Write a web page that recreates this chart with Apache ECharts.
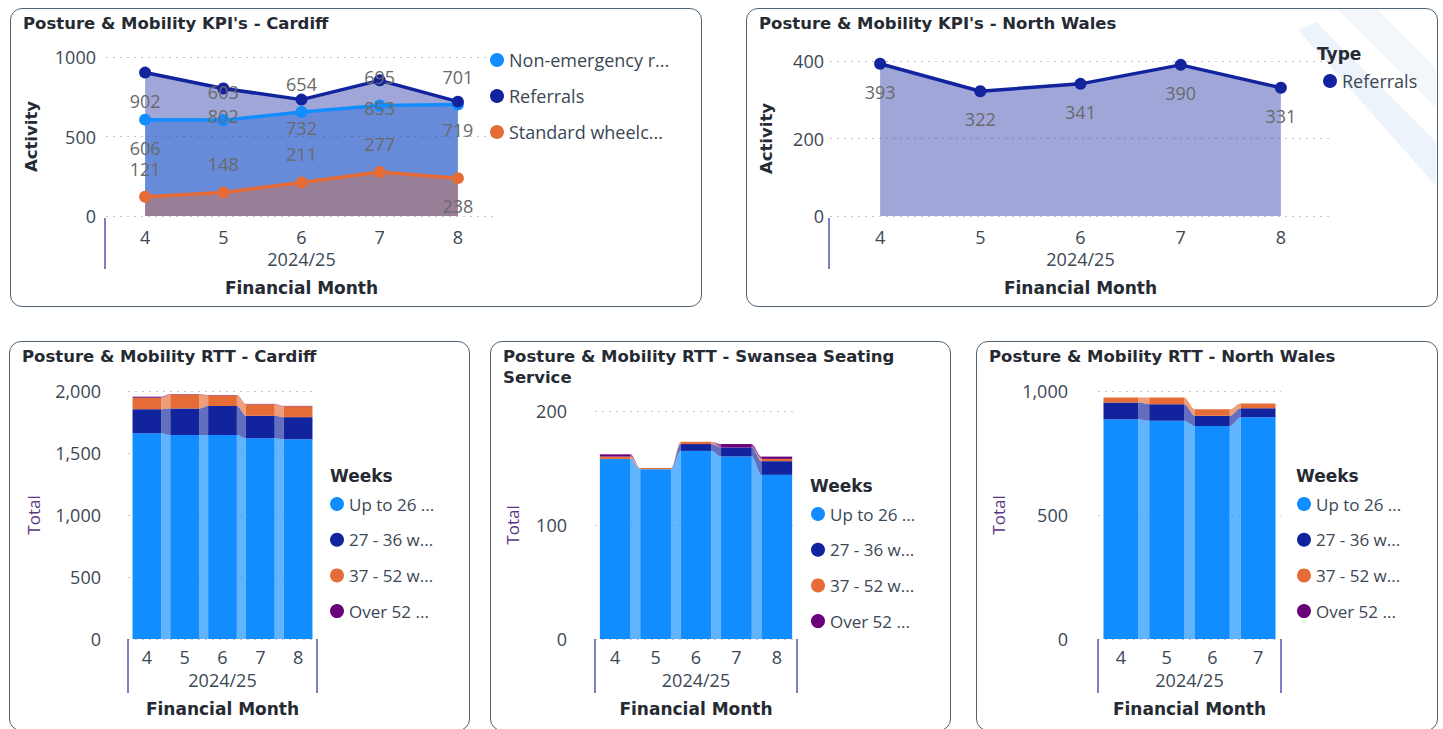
<!DOCTYPE html>
<html><head><meta charset="utf-8">
<script src="https://cdn.jsdelivr.net/npm/echarts@6/dist/echarts.min.js"></script>
<style>
html,body{margin:0;padding:0;background:#fff;}
body{width:1443px;height:729px;overflow:hidden;position:relative;}
.panel{position:absolute;box-sizing:border-box;border:1.6px solid #516474;border-radius:12px;background:#fff;}
.chart{position:absolute;}
</style></head><body>
<div id="root"></div>
<script>
// ---------------- DATA ----------------
const months = ['4', '5', '6', '7', '8'];
const monthsNW = ['4', '5', '6', '7'];
const kpiNames = ['Non-emergency r...', 'Referrals', 'Standard wheelc...'];
const cardiffNonEmergency = [606, 603, 654, 695, 701];
const cardiffReferrals = [902, 802, 732, 853, 719];
const cardiffStandardWheelchair = [121, 148, 211, 277, 238];
const northWalesReferrals = [393, 322, 341, 390, 331];
const weeksNames = ['Up to 26 ...', '27 - 36 w...', '37 - 52 w...', 'Over 52 ...'];
const cardiffUpTo26 = [1659, 1645, 1645, 1619, 1611];
const cardiff27to36 = [194, 214, 234, 181, 178];
const cardiff37to52 = [93, 114, 86, 93, 88];
const cardiffOver52 = [8, 3, 3, 3, 3];
const swanseaUpTo26 = [158, 149, 165, 160, 144];
const swansea27to36 = [0, 0, 6, 8, 12];
const swansea37to52 = [2, 1, 2, 0, 2];
const swanseaOver52 = [2, 0, 0, 3, 2];
const nwUpTo26 = [886, 880, 859, 894];
const nw27to36 = [68, 67, 41, 36];
const nw37to52 = [20, 27, 26, 20];
const nwOver52 = [0, 0, 0, 0];

// ---------------- STYLE ----------------
const FONT = "'Open Sans', 'Noto Sans', sans-serif";
const BFONT = "'DejaVu Sans', 'Open Sans', sans-serif";
const TXT = '#3b4754';
const DARK = '#252a33';
const C_BLUE = '#118DFF', C_NAVY = '#12239E', C_ORANGE = '#E66C37', C_PURPLE = '#6B007B';
const WEEK_COLORS = [C_BLUE, C_NAVY, C_ORANGE, C_PURPLE];
const BAR_FRAC = 0.76;

const panels = [
  {x: 10, y: 8, w: 692, h: 299},
  {x: 746, y: 8, w: 692, h: 299},
  {x: 9, y: 341, w: 461, h: 390},
  {x: 490, y: 341, w: 461, h: 390},
  {x: 976, y: 341, w: 462, h: 390}
];
const root = document.getElementById('root');
const doms = panels.map(p => {
  const pd = document.createElement('div');
  pd.className = 'panel';
  Object.assign(pd.style, {left: p.x + 'px', top: p.y + 'px', width: p.w + 'px', height: p.h + 'px'});
  root.appendChild(pd);
  const cd = document.createElement('div');
  cd.className = 'chart';
  Object.assign(cd.style, {left: p.x + 'px', top: p.y + 'px', width: p.w + 'px', height: Math.min(p.h, 729 - p.y) + 'px'});
  root.appendChild(cd);
  return cd;
});

function mainTitle(text, extra) {
  return Object.assign({
    text, left: 8, top: 0,
    textStyle: {fontFamily: BFONT, fontSize: 16.5, fontWeight: 'bold', color: DARK, lineHeight: 21}
  }, extra || {});
}
function legendTitle(text, left, top) {
  return {text, left, top, textStyle: {fontFamily: BFONT, fontSize: 17, fontWeight: 'bold', color: DARK}};
}
function yAxisCfg(max, interval, name, nameGap, margin, fmt, nameStyle) {
  return {
    type: 'value', min: 0, max, interval,
    name, nameLocation: 'middle', nameGap, nameMoveOverlap: false,
    nameTextStyle: nameStyle,
    axisLabel: {color: TXT, fontSize: 18, fontFamily: FONT, margin, formatter: fmt},
    axisLine: {show: false}, axisTick: {show: false},
    splitLine: {lineStyle: {color: '#c6c6c6', type: [2, 5], width: 1}}
  };
}
function xAxisCfg(cats, margin, nameGap, lh2, ticks) {
  return {
    type: 'category', data: cats, boundaryGap: true,
    name: '{a|2024/25}\n{b|Financial Month}', nameLocation: 'middle', nameGap, nameMoveOverlap: false,
    nameTextStyle: {rich: {
      a: {fontSize: 18, color: TXT, fontFamily: FONT, lineHeight: 24},
      b: {fontSize: 17, fontWeight: 'bold', color: DARK, fontFamily: BFONT, lineHeight: lh2}
    }},
    axisLabel: {color: TXT, fontSize: 18, fontFamily: FONT, margin},
    axisLine: {show: false},
    axisTick: ticks ? {show: true, interval: (i) => i === 0, length: 54, lineStyle: {color: '#7c80c9', width: 2}} : {show: false}
  };
}
const boldName = {fontFamily: BFONT, fontSize: 16.5, fontWeight: 'bold', color: DARK};
const totalName = {fontFamily: FONT, fontSize: 17, color: '#5a3584'};
const fmtThousands = v => v.toLocaleString('en-US');
const fmtPlain = v => String(v);

// ---------- line (KPI) charts ----------
function lineSeries(name, color, values, positions) {
  return {
    type: 'line', name, color,
    data: values.map((v, i) => ({value: v, label: {position: positions[i]}})),
    symbol: 'circle', symbolSize: 12, lineStyle: {width: 3.5, color},
    itemStyle: {color}, areaStyle: {color, opacity: 0.4},
    label: {show: true, distance: 13, fontFamily: FONT, fontSize: 18, color: '#6a6a6a'},
    emphasis: {disabled: true}
  };
}

// Chart 1: KPI Cardiff
echarts.init(doms[0], null, {renderer: 'svg'}).setOption({
  animation: false,
  title: [mainTitle("Posture & Mobility KPI's - Cardiff")],
  grid: {left: 96, right: 205, top: 49, bottom: 91},
  xAxis: xAxisCfg(months, 12, 31, 34, false),
  yAxis: yAxisCfg(1000, 500, 'Activity', 66, 10, fmtPlain, boldName),
  legend: {
    orient: 'vertical', left: 475, top: 38, itemGap: 18, icon: 'circle', itemWidth: 14, itemHeight: 14,
    textStyle: {fontFamily: FONT, fontSize: 18, color: TXT}, data: kpiNames
  },
  graphic: [{type: 'line', shape: {x1: 95, y1: 210, x2: 95, y2: 261}, style: {stroke: '#7c80c9', lineWidth: 2}}],
  series: [
    lineSeries(kpiNames[0], C_BLUE, cardiffNonEmergency, ['bottom', 'top', 'top', 'top', 'top']),
    lineSeries(kpiNames[1], C_NAVY, cardiffReferrals, ['bottom', 'bottom', 'bottom', 'bottom', 'bottom']),
    lineSeries(kpiNames[2], C_ORANGE, cardiffStandardWheelchair, ['top', 'top', 'top', 'top', 'bottom'])
  ]
});

// Chart 2: KPI North Wales
echarts.init(doms[1], null, {renderer: 'svg'}).setOption({
  animation: false,
  title: [mainTitle("Posture & Mobility KPI's - North Wales"), legendTitle('Type', 566, 32)],
  grid: {left: 84, right: 107, top: 53, bottom: 91},
  xAxis: xAxisCfg(months, 12, 31, 34, false),
  yAxis: yAxisCfg(400, 200, 'Activity', 55, 6, fmtPlain, boldName),
  legend: {
    orient: 'vertical', left: 572, top: 59, icon: 'circle', itemWidth: 14, itemHeight: 14,
    textStyle: {fontFamily: FONT, fontSize: 18, color: TXT}, data: ['Referrals']
  },
  graphic: [
    {type: 'polygon', z: -1, silent: true, shape: {points: [[591, 1], [631, 1], [690, 60], [690, 100]]}, style: {fill: '#f3f7fc'}},
    {type: 'polygon', z: -1, silent: true, shape: {points: [[552, 22], [570, 14], [690, 134], [690, 178]]}, style: {fill: '#edf3fb'}},
    {type: 'line', shape: {x1: 83, y1: 210, x2: 83, y2: 261}, style: {stroke: '#7c80c9', lineWidth: 2}}
  ],
  series: [lineSeries('Referrals', C_NAVY, northWalesReferrals, ['bottom', 'bottom', 'bottom', 'bottom', 'bottom'])]
});

// ---------- ribbon (RTT) charts ----------
function renderRibbon(params, api) {
  const i = api.value(0);
  const a0 = api.coord([i, api.value(1)]), a1 = api.coord([i, api.value(2)]);
  const b0 = api.coord([i + 1, api.value(3)]), b1 = api.coord([i + 1, api.value(4)]);
  const half = api.size([1, 0])[0] * BAR_FRAC / 2;
  const x1 = a0[0] + half, x2 = b0[0] - half;
  const pts = [], N = 16;
  for (let k = 0; k <= N; k++) { const t = k / N, s = t * t * (3 - 2 * t); pts.push([x1 + (x2 - x1) * t, a1[1] + (b1[1] - a1[1]) * s]); }
  for (let k = N; k >= 0; k--) { const t = k / N, s = t * t * (3 - 2 * t); pts.push([x1 + (x2 - x1) * t, a0[1] + (b0[1] - a0[1]) * s]); }
  return {type: 'polygon', shape: {points: pts}, style: {fill: api.visual('color'), opacity: 0.66}};
}
function ribbonChartSeries(stackArrays) {
  const series = [];
  const n = stackArrays[0].length;
  const base = new Array(n).fill(0);
  stackArrays.forEach((arr, s) => {
    const lo = base.slice();
    const hi = arr.map((v, i) => lo[i] + v);
    series.push({
      type: 'bar', name: weeksNames[s], stack: 'total', data: arr, barWidth: (BAR_FRAC * 100) + '%',
      itemStyle: {color: WEEK_COLORS[s]}, emphasis: {disabled: true}
    });
    const rd = [];
    for (let i = 0; i < n - 1; i++) rd.push([i, lo[i], hi[i], lo[i + 1], hi[i + 1]]);
    series.push({
      type: 'custom', name: 'ribbon ' + s, renderItem: renderRibbon, data: rd, silent: true,
      encode: {x: 0, y: [1, 2, 3, 4]}, itemStyle: {color: WEEK_COLORS[s]}, z: 1
    });
    hi.forEach((v, i) => { base[i] = v; });
  });
  return series;
}
function weeksLegend(top) {
  return {
    orient: 'vertical', left: 316, top, itemGap: 18.7, icon: 'circle', itemWidth: 14, itemHeight: 14,
    textStyle: {fontFamily: FONT, fontSize: 17, color: TXT}, data: weeksNames
  };
}

// Chart 3: RTT Cardiff
echarts.init(doms[2], null, {renderer: 'svg'}).setOption({
  animation: false,
  title: [mainTitle('Posture & Mobility RTT - Cardiff'), legendTitle('Weeks', 316, 121)],
  grid: {left: 119, right: 153, top: 50, bottom: 90},
  xAxis: xAxisCfg(months, 9, 29, 34, true),
  yAxis: yAxisCfg(2000, 500, 'Total', 86, 27, fmtThousands, totalName),
  legend: weeksLegend(149.5),
  series: ribbonChartSeries([cardiffUpTo26, cardiff27to36, cardiff37to52, cardiffOver52])
});

// Chart 4: RTT Swansea
echarts.init(doms[3], null, {renderer: 'svg'}).setOption({
  animation: false,
  title: [mainTitle('Posture & Mobility RTT - Swansea Seating Service', {textStyle: {fontFamily: BFONT, fontSize: 16.5, fontWeight: 'bold', color: DARK, lineHeight: 21, width: 430, overflow: 'break'}}),
          legendTitle('Weeks', 315, 131)],
  grid: {left: 105, right: 154, top: 70, bottom: 90},
  xAxis: xAxisCfg(months, 9, 29, 34, true),
  yAxis: yAxisCfg(200, 100, 'Total', 74, 28, fmtThousands, totalName),
  legend: weeksLegend(159.5),
  series: ribbonChartSeries([swanseaUpTo26, swansea27to36, swansea37to52, swanseaOver52])
});

// Chart 5: RTT North Wales
echarts.init(doms[4], null, {renderer: 'svg'}).setOption({
  animation: false,
  title: [mainTitle('Posture & Mobility RTT - North Wales'), legendTitle('Weeks', 315, 121)],
  grid: {left: 122, right: 157, top: 50, bottom: 90},
  xAxis: xAxisCfg(monthsNW, 9, 29, 34, true),
  yAxis: yAxisCfg(1000, 500, 'Total', 91, 30, fmtThousands, totalName),
  legend: weeksLegend(149.5),
  series: ribbonChartSeries([nwUpTo26, nw27to36, nw37to52, nwOver52])
});
</script>
</body></html>
